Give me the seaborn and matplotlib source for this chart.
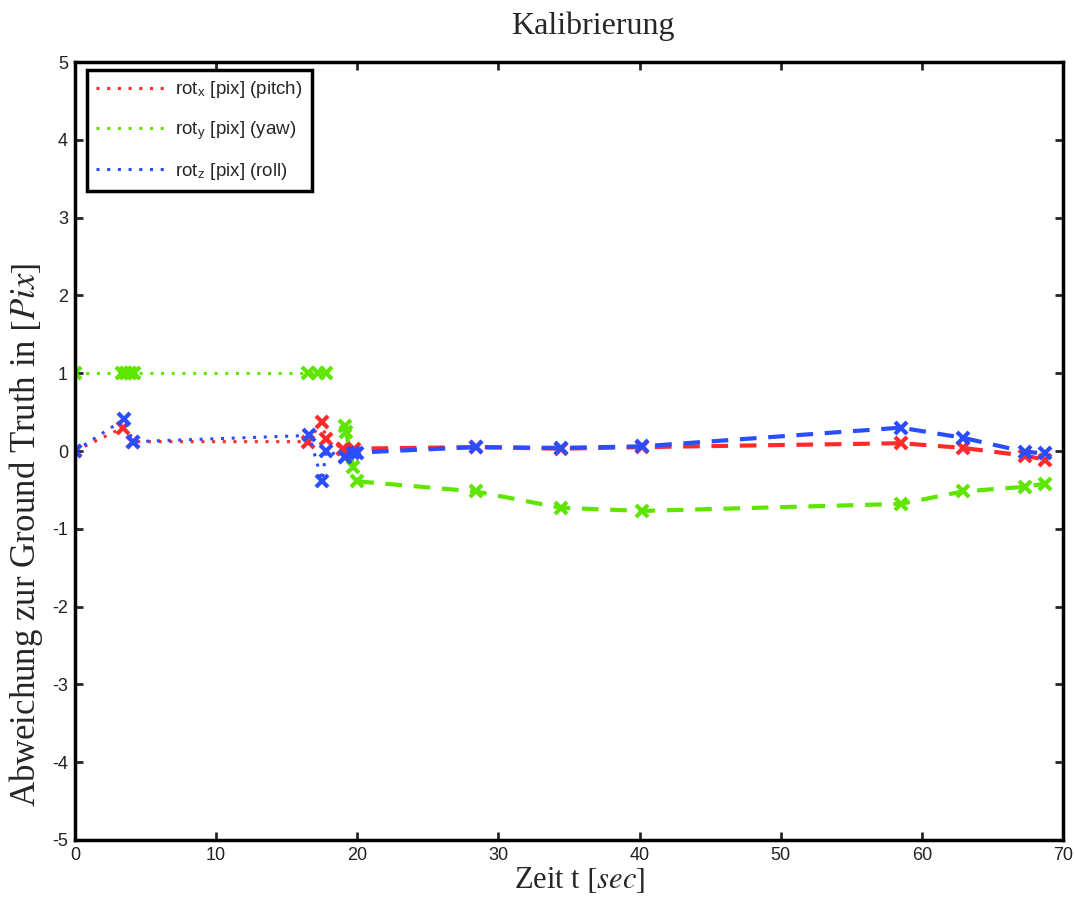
import matplotlib
matplotlib.use('Agg')
import matplotlib.pyplot as plt
from matplotlib.lines import Line2D
import pandas as pd
import seaborn as sns

sns.set_style('ticks')
plt.rcParams['font.family'] = ['Liberation Sans', 'DejaVu Sans']
plt.rcParams['mathtext.fontset'] = 'stix'
plt.rcParams['axes.unicode_minus'] = False

# Kalibrierungsphase (gepunktet)
t_x_cal = [0, 3.4, 4.1, 16.5, 17.5, 17.8, 19.0]
rot_x_cal = [0, 0.30, 0.12, 0.12, 0.37, 0.15, 0.03]
t_y_cal = [0, 3.3, 3.6, 3.9, 4.2, 16.5, 17.2, 17.8]
rot_y_cal = [1, 1, 1, 1, 1, 1, 1, 1]
t_z_cal = [0, 3.5, 4.1, 16.6, 17.5, 17.8, 19.1]
rot_z_cal = [0, 0.41, 0.12, 0.20, -0.38, 0.0, -0.08]

# Messphase (gestrichelt)
t_x = [19.0, 19.8, 28.4, 34.4, 40.2, 58.5, 62.9, 67.3, 68.7]
rot_x = [0.03, 0.03, 0.05, 0.03, 0.05, 0.10, 0.04, -0.06, -0.11]
t_y = [19.1, 19.2, 19.7, 20.0, 28.4, 34.4, 40.2, 58.5, 62.9, 67.3, 68.7]
rot_y = [0.32, 0.25, -0.20, -0.39, -0.52, -0.73, -0.77, -0.68, -0.52, -0.46, -0.42]
t_z = [19.1, 19.7, 20.0, 28.4, 34.4, 40.2, 58.5, 62.9, 67.3, 68.7]
rot_z = [-0.08, -0.03, -0.02, 0.05, 0.04, 0.06, 0.30, 0.17, -0.01, -0.03]

labels = [r'rot$_\mathregular{x}$ [pix] (pitch)',
          r'rot$_\mathregular{y}$ [pix] (yaw)',
          r'rot$_\mathregular{z}$ [pix] (roll)']
colors = ['#ff2a2a', '#5ee600', '#2a4dff']

fig = plt.figure(figsize=(10.74, 9.08), dpi=100)
ax = fig.add_axes([0.0698, 0.0749, 0.92, 0.8568])

cal = [(t_x_cal, rot_x_cal), (t_y_cal, rot_y_cal), (t_z_cal, rot_z_cal)]
mess = [(t_x, rot_x), (t_y, rot_y), (t_z, rot_z)]

for (tc, yc), (tm, ym), c in zip(cal, mess, colors):
    d1 = pd.DataFrame({'t': tc, 'v': yc})
    d2 = pd.DataFrame({'t': tm, 'v': ym})
    sns.lineplot(data=d1, x='t', y='v', ax=ax, sort=False, color=c, lw=2.2,
                 linestyle=(0, (1, 2.5)), marker='x', markersize=8, mew=3,
                 mec=c, mfc=c, estimator=None)
    sns.lineplot(data=d2, x='t', y='v', ax=ax, sort=False, color=c, lw=3,
                 linestyle=(0, (4, 2.8)), marker='x', markersize=8, mew=3,
                 mec=c, mfc=c, estimator=None)

ax.set_xlim(0, 70)
ax.set_ylim(-5, 5)
ax.set_xticks(range(0, 71, 10))
ax.set_yticks(range(-5, 6))
ax.tick_params(direction='in', length=6, width=2, top=True, right=True,
               labelsize=13, pad=5, labelcolor='#222222')
for s in ax.spines.values():
    s.set_linewidth(2.5)
    s.set_color('black')

ax.set_xlabel(r'Zeit t $[sec]$', family='Liberation Serif', fontsize=22)
ax.set_ylabel(r'Abweichung zur Ground Truth in $[Pix]$', family='Liberation Serif',
              fontsize=25)
ax.xaxis.set_label_coords(0.511, -0.032)
ax.yaxis.set_label_coords(-0.03, 0.392)
fig.text(0.552, 0.971, 'Kalibrierung', family='Liberation Serif', fontsize=23,
         ha='center', va='center')

handles = [Line2D([], [], color=c, lw=2.2, linestyle=(0, (1, 2.5))) for c in colors]
leg = ax.legend(handles, labels, loc='upper left', bbox_to_anchor=(0.012, 0.99),
                fontsize=13.5, frameon=True, fancybox=False, handlelength=3.6,
                borderpad=0.5, labelspacing=1.0, borderaxespad=0, handletextpad=0.6)
leg.get_frame().set_edgecolor('black')
leg.get_frame().set_linewidth(2.5)
leg.get_frame().set_alpha(1)

fig.savefig('out.png', dpi=100)
